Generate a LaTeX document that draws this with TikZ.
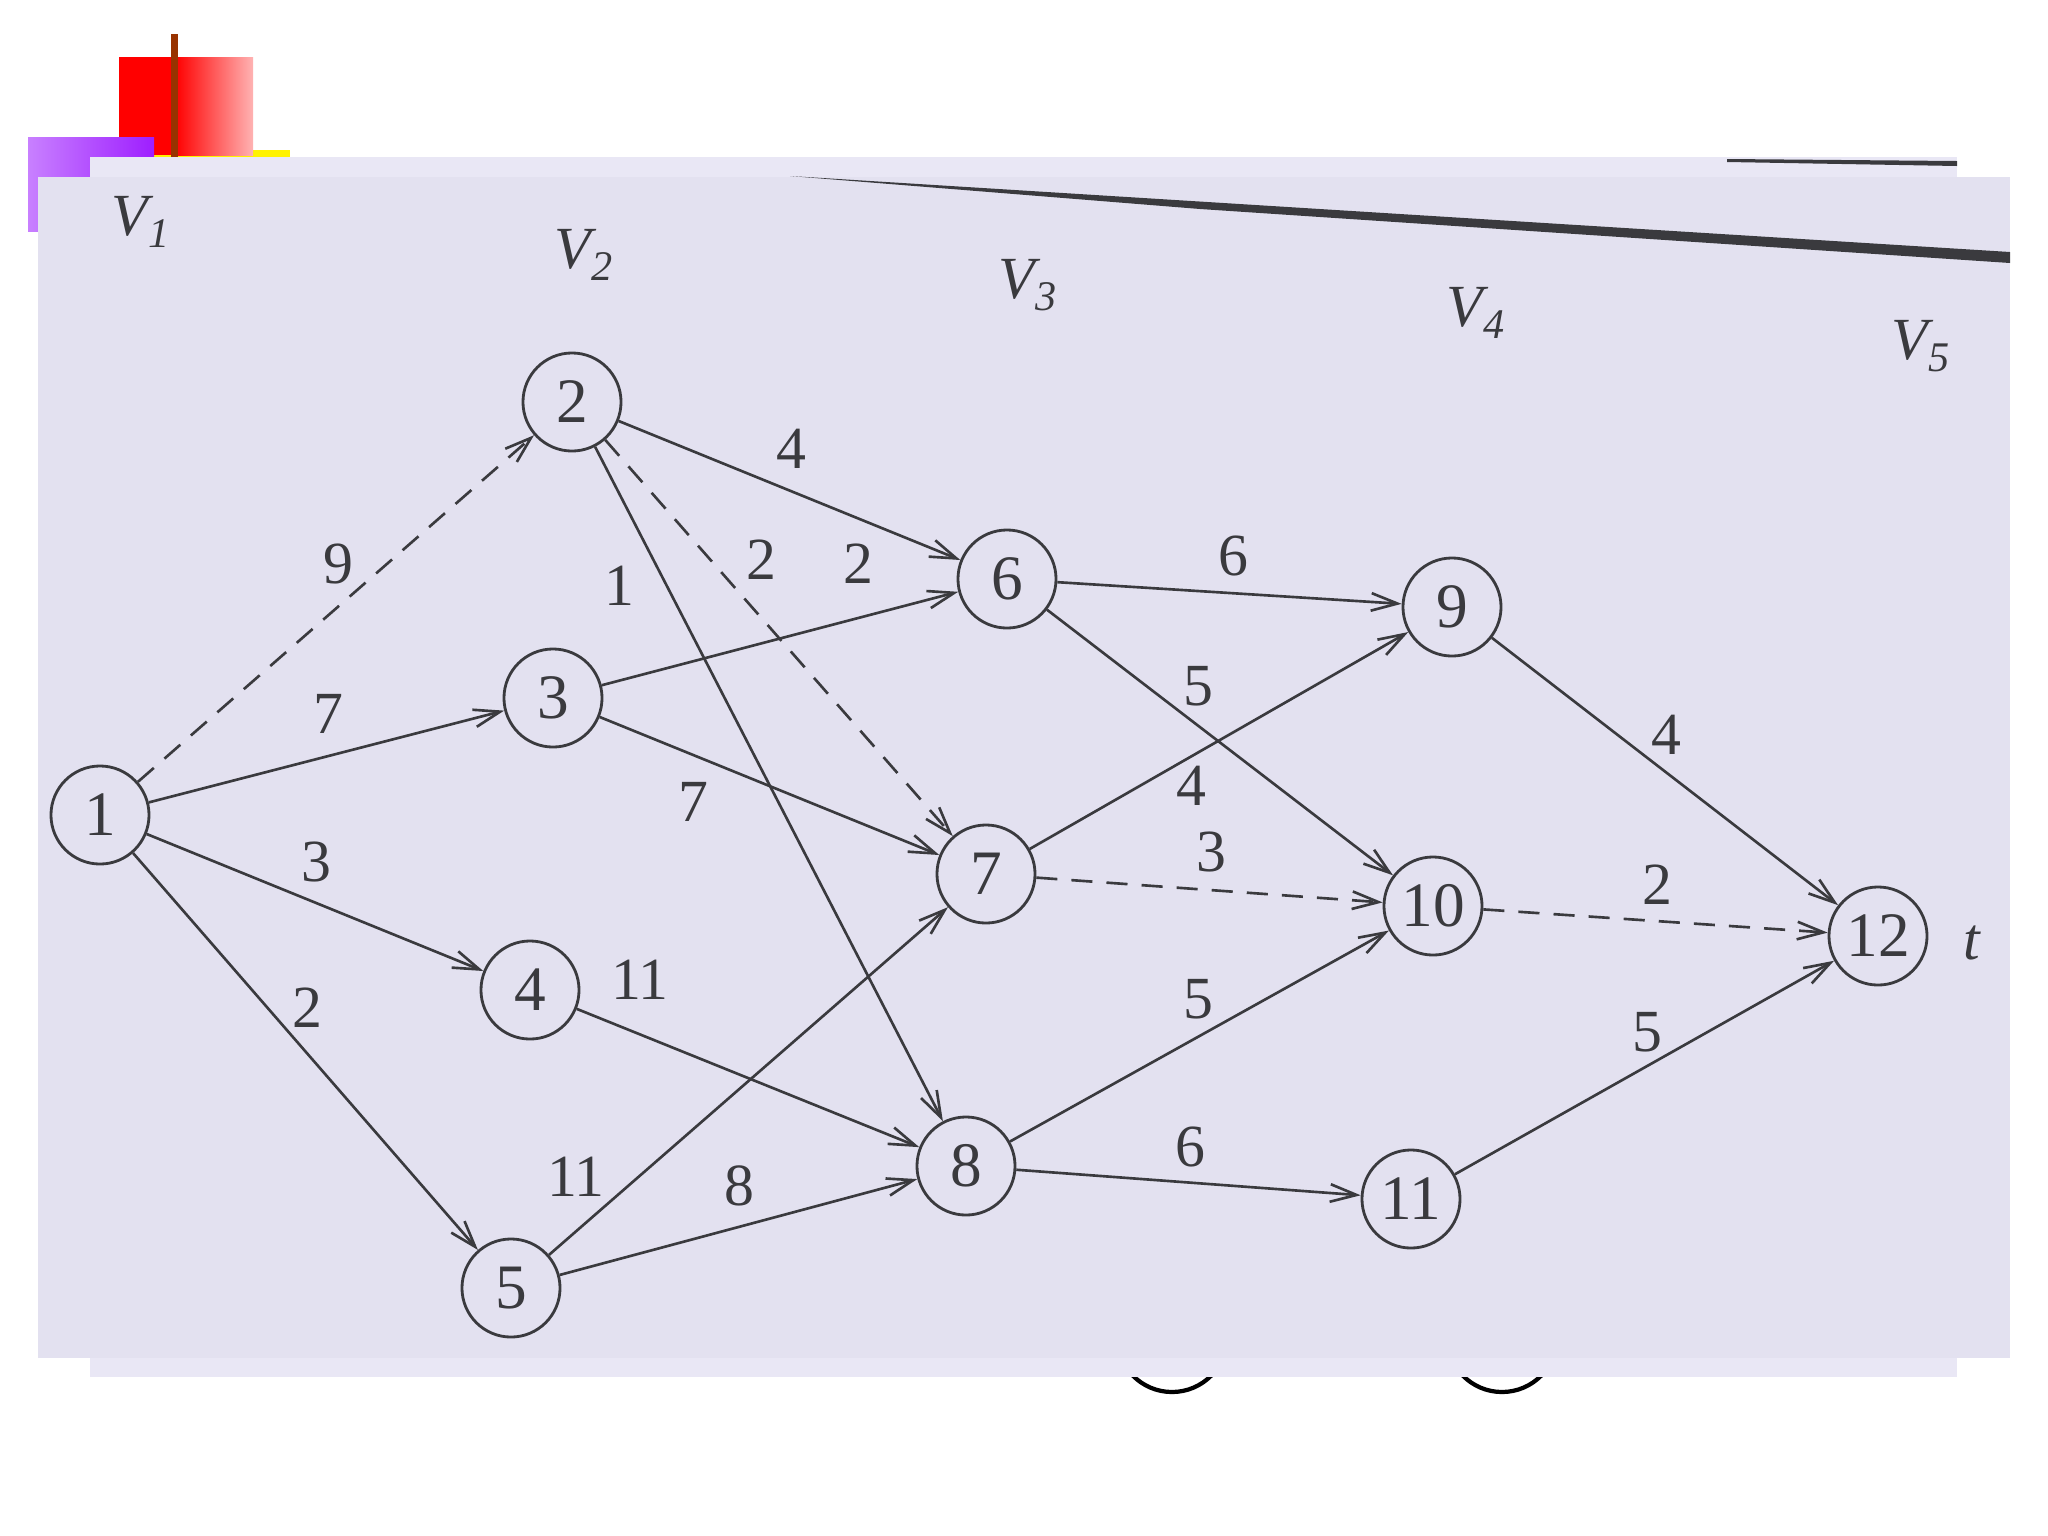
\documentclass[tikz,border=0pt]{standalone}
\usepackage{fontspec}
\setmainfont{Liberation Serif}
\usetikzlibrary{arrows.meta}

\definecolor{InkGray}{RGB}{58,58,62}
\definecolor{PageBack}{RGB}{233,231,245}
\definecolor{PageFront}{RGB}{227,225,240}
\definecolor{SlideBrown}{RGB}{153,51,0}
\definecolor{SlideViolet}{RGB}{158,30,255}
\definecolor{SlideLilac}{RGB}{200,128,255}

\newcommand{\LayerLab}[1]{\textit{V}\kern-1.5pt\raisebox{-0.45ex}{\fontsize{12}{12}\selectfont\textit{#1}}}

\begin{document}
\begin{tikzpicture}[x=0.01cm, y=-0.01cm,
    vertex/.style={circle, draw=InkGray, line width=0.8pt, minimum size=0.98cm,
        inner sep=0pt, text=InkGray, font=\fontsize{18}{18}\selectfont},
    weight/.style={inner sep=0pt, text=InkGray, font=\fontsize{17}{17}\selectfont},
    layer/.style={inner sep=0pt, text=InkGray, font=\fontsize{17}{17}\selectfont},
    flow/.style={draw=InkGray, line width=0.75pt, -{Straight Barb[length=7.5pt,width=5pt]}},
    flowdash/.style={flow, dash pattern=on 6pt off 4pt}]

\useasboundingbox (0,0) rectangle (2048,1536);

% _____ slide decoration
\fill[yellow] (154,150) rectangle (290,166);
\fill[red] (119,57) rectangle (175,155);
\shade[left color=red, right color=red!30!white] (175,57) rectangle (253,155);
\shade[left color=SlideLilac, right color=SlideViolet] (28,137) rectangle (154,231);
\fill[SlideBrown] (171,34) rectangle (178,158);

% _____ circles peeking out under the scan
\draw[black, line width=1.2pt] (1172,1337) circle [radius=55];
\draw[black, line width=1.2pt] (1502,1337) circle [radius=55];

% _____ scanned page
\fill[PageBack] (90,157) rectangle (1957,1377);
\fill[InkGray] (1727,159) -- (1957,161) -- (1957,166) -- (1727,162) -- cycle;
\fill[PageFront] (38,177) rectangle (2010,1358);
\fill[InkGray] (790,176) -- (2010,252) -- (2010,263) -- (1200,209) -- cycle;

% _____ layers
\node[layer] (L1) at (141,222) {\LayerLab{1}};
\node[layer] (L2) at (584,255) {\LayerLab{2}};
\node[layer] (L3) at (1028,285) {\LayerLab{3}};
\node[layer] (L4) at (1476,313) {\LayerLab{4}};
\node[layer] (L5) at (1921,346) {\LayerLab{5}};

% _____ vertices
\node[vertex] (n1) at (100,815) {1};
\node[vertex] (n2) at (572,402) {2};
\node[vertex] (n3) at (553,698) {3};
\node[vertex] (n4) at (530,990) {4};
\node[vertex] (n5) at (511,1288) {5};
\node[vertex] (n6) at (1007,579) {6};
\node[vertex] (n7) at (986,874) {7};
\node[vertex] (n8) at (966,1166) {8};
\node[vertex] (n9) at (1452,607) {9};
\node[vertex] (n10) at (1433,906) {10};
\node[vertex] (n11) at (1411,1199) {11};
\node[vertex] (n12) at (1878,936) {12};
\node[layer] (sink) at (1972,943) {\textit{t}};

% _____ arcs
\draw[flowdash] (n1) -- (n2);
\draw[flow] (n1) -- (n3);
\draw[flow] (n1) -- (n4);
\draw[flow] (n1) -- (n5);
\draw[flow] (n2) -- (n6);
\draw[flow] (n2) -- (n8);
\draw[flowdash] (n2) -- (n7);
\draw[flow] (n3) -- (n6);
\draw[flow] (n3) -- (n7);
\draw[flow] (n4) -- (n8);
\draw[flow] (n5) -- (n7);
\draw[flow] (n5) -- (n8);
\draw[flow] (n6) -- (n9);
\draw[flow] (n6) -- (n10);
\draw[flow] (n7) -- (n9);
\draw[flowdash] (n7) -- (n10);
\draw[flow] (n8) -- (n10);
\draw[flow] (n8) -- (n11);
\draw[flow] (n9) -- (n12);
\draw[flowdash] (n10) -- (n12);
\draw[flow] (n11) -- (n12);

% _____ weights
\node[weight] (w12) at (338,564) {9};
\node[weight] (w13) at (328,714) {7};
\node[weight] (w14) at (316,862) {3};
\node[weight] (w15) at (307,1008) {2};
\node[weight] (w26) at (791,449) {4};
\node[weight] (w28) at (619,586) {1};
\node[weight] (w27) at (761,560) {2};
\node[weight] (w36) at (858,564) {2};
\node[weight] (w37) at (693,802) {7};
\node[weight] (w48) at (640,980) {11};
\node[weight] (w57) at (576,1177) {11};
\node[weight] (w58) at (739,1186) {8};
\node[weight] (w69) at (1233,556) {6};
\node[weight] (w610) at (1198,686) {5};
\node[weight] (w79) at (1191,786) {4};
\node[weight] (w710) at (1211,852) {3};
\node[weight] (w810) at (1198,999) {5};
\node[weight] (w811) at (1190,1147) {6};
\node[weight] (w912) at (1666,735) {4};
\node[weight] (w1012) at (1657,885) {2};
\node[weight] (w1112) at (1647,1032) {5};

\end{tikzpicture}
\end{document}
